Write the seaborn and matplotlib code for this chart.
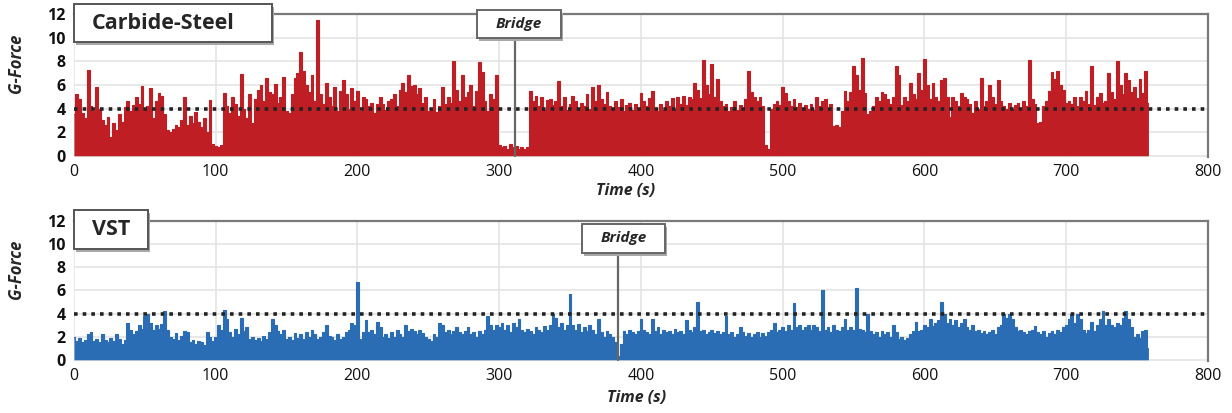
import numpy as np
import pandas as pd
import matplotlib.pyplot as plt
from matplotlib.patches import Rectangle
import seaborn as sns

# peak G-force, one value every 2 s (t = 0 .. 758)
step = 2
carbide_steel = [
    3.5, 5.2, 4.8, 3.6, 3.2, 7.3, 4.2, 3.8, 5.8, 4.0,
    3.0, 2.6, 3.3, 1.6, 2.8, 2.2, 3.5, 2.9, 4.1, 4.6,
    3.8, 4.3, 5.0, 4.4, 5.9, 4.0, 4.2, 5.7, 3.2, 4.6,
    5.3, 5.1, 3.5, 2.2, 2.0, 2.3, 2.6, 2.4, 3.0, 5.0,
    2.6, 3.4, 2.8, 3.7, 2.9, 2.4, 3.2, 2.0, 4.7, 1.0,
    0.8, 0.7, 0.9, 5.3, 4.2, 3.6, 5.0, 4.4, 3.4, 6.9,
    4.0, 3.2, 5.2, 2.8, 4.8, 5.6, 6.0, 4.6, 6.6, 5.4,
    5.2, 6.1, 4.5, 5.0, 6.7, 3.8, 3.6, 5.2, 6.6, 7.0,
    8.8, 7.2, 6.0, 5.4, 6.8, 4.6, 11.5, 5.2, 4.4, 6.2,
    5.0, 4.2, 5.8, 3.8, 5.5, 6.4, 5.2, 4.0, 5.7, 4.6,
    5.5, 3.8, 5.0, 4.8, 4.2, 4.5, 3.6, 4.4, 5.0, 4.4,
    3.9, 4.6, 4.8, 5.2, 4.2, 5.6, 6.2, 5.4, 6.8, 5.9,
    6.0, 5.2, 5.7, 4.5, 5.0, 3.8, 4.0, 4.8, 3.7, 4.2,
    5.8, 4.4, 5.0, 4.5, 8.0, 5.6, 4.6, 6.8, 5.0, 5.4,
    6.0, 4.2, 5.5, 7.9, 7.1, 4.6, 3.8, 5.2, 4.8, 6.8,
    0.9, 0.7, 0.8, 0.6, 1.0, 0.7, 0.8, 0.6, 0.7, 0.6,
    0.7, 5.5, 4.6, 5.1, 4.2, 5.0, 3.9, 4.7, 4.8, 4.3,
    4.6, 6.3, 4.2, 5.0, 3.9, 4.4, 5.1, 4.6, 4.0, 4.5,
    4.2, 5.2, 4.0, 5.8, 4.6, 6.0, 4.8, 4.4, 5.4, 4.2,
    3.9, 4.6, 4.1, 4.8, 3.8, 4.3, 4.5, 3.9, 4.4, 4.0,
    5.3, 4.6, 4.2, 4.9, 5.5, 4.0, 3.8, 4.4, 3.9, 4.6,
    4.2, 4.9, 4.0, 5.0, 4.4, 5.1, 4.3, 5.0, 4.8, 6.2,
    5.6, 4.9, 8.1, 6.0, 5.2, 7.8, 5.0, 6.5, 4.6, 4.2,
    4.4, 3.8, 4.1, 4.6, 3.9, 4.3, 4.0, 4.8, 7.2, 5.4,
    5.0, 4.6, 5.0, 4.2, 0.9, 0.6, 4.0, 4.4, 4.6, 4.3,
    5.8, 5.3, 4.6, 4.2, 4.8, 4.1, 4.5, 3.9, 4.3, 4.0,
    4.4, 3.9, 5.0, 4.2, 4.6, 4.8, 4.0, 4.4, 2.5, 2.6,
    2.4, 3.8, 5.5, 4.6, 5.4, 7.6, 6.8, 5.6, 8.3, 5.3,
    3.5, 3.8, 4.2, 5.0, 4.6, 5.4, 5.2, 4.8, 4.4, 5.0,
    7.6, 6.8, 4.3, 5.0, 4.6, 6.2, 5.2, 4.8, 7.0, 5.6,
    8.2, 6.0, 4.8, 6.2, 5.0, 4.6, 6.4, 6.6, 5.0, 3.3,
    5.0, 4.6, 4.2, 5.3, 5.0, 4.8, 4.4, 3.6, 4.6, 4.0,
    6.6, 4.2, 4.6, 6.0, 5.0, 4.4, 6.4, 4.6, 4.2, 4.0,
    4.5, 4.0, 4.3, 4.5, 3.9, 4.6, 4.2, 8.1, 4.8, 4.4,
    2.8, 2.9, 4.2, 4.6, 5.5, 7.1, 6.5, 7.2, 6.0, 5.6,
    4.5, 4.6, 4.4, 5.0, 4.2, 5.0, 4.6, 5.5, 4.4, 7.6,
    4.3, 5.0, 5.3, 4.5, 4.6, 7.0, 5.4, 4.8, 8.0, 6.0,
    5.2, 7.0, 6.4, 5.4, 5.8, 4.9, 6.5, 5.3, 7.2, 4.5,
]
vst = [
    2.0, 1.6, 1.9, 1.5, 1.7, 2.2, 2.4, 1.6, 1.8, 1.5,
    2.2, 1.7, 1.5, 1.9, 1.6, 2.2, 1.8, 1.4, 1.7, 3.2,
    2.6, 2.2, 2.5, 3.0, 2.7, 3.8, 4.0, 3.2, 2.6, 3.0,
    2.7, 3.1, 4.2, 2.6, 2.0, 1.8, 2.3, 1.7, 2.1, 2.5,
    2.4, 1.5, 1.7, 1.4, 1.6, 1.5, 1.3, 2.4, 2.0, 1.6,
    2.0, 3.0, 2.6, 4.3, 3.5, 2.4, 2.0, 2.7, 2.2, 3.6,
    2.5, 2.8, 1.8, 2.0, 1.7, 1.9, 1.6, 2.1, 1.8, 2.4,
    3.5, 3.0, 2.5, 2.2, 2.6, 1.8, 2.0, 1.7, 2.3, 1.9,
    2.2, 1.8, 2.4, 2.0, 2.6, 2.2, 1.8, 2.0, 2.4, 3.0,
    2.1, 2.0, 1.7, 2.2, 1.8, 2.0, 2.4, 2.6, 3.2, 3.0,
    6.7, 1.8, 2.4, 3.4, 2.4, 2.6, 2.2, 3.3, 2.8, 2.0,
    2.2, 1.9, 2.4, 2.0, 2.6, 2.2, 2.0, 3.0, 2.5, 2.7,
    2.5, 2.2, 2.6, 2.3, 2.0, 1.8, 1.6, 2.2, 2.0, 3.2,
    3.0, 2.4, 2.6, 2.2, 2.5, 2.8, 2.4, 2.2, 2.5, 2.8,
    2.2, 2.4, 2.0, 2.5, 2.2, 2.6, 3.8, 3.0, 2.6, 3.0,
    2.8, 3.2, 2.6, 3.0, 2.4, 3.2, 2.8, 3.5, 2.6, 2.4,
    2.7, 2.5, 2.2, 2.8, 2.6, 2.4, 2.9, 2.6, 3.0, 4.0,
    3.6, 2.8, 3.2, 2.6, 3.0, 5.7, 3.0, 2.6, 3.1, 2.4,
    2.8, 2.5, 3.0, 2.6, 2.2, 3.5, 2.4, 2.0, 2.5, 2.2,
    2.0, 1.5, 0.3, 1.4, 2.5, 2.2, 2.6, 2.4, 2.2, 2.5,
    3.5, 2.6, 2.4, 2.2, 3.5, 2.5, 2.8, 2.2, 2.6, 2.4,
    2.5, 2.2, 2.7, 2.4, 2.5, 2.2, 3.4, 2.6, 2.4, 2.8,
    5.0, 2.5, 2.6, 2.2, 2.4, 2.6, 2.3, 2.5, 2.2, 2.4,
    3.8, 2.2, 2.4, 2.0, 2.2, 2.8, 2.4, 2.1, 2.3, 2.0,
    2.2, 2.4, 2.0, 2.3, 2.1, 2.4, 2.6, 3.2, 2.4, 2.6,
    2.8, 2.5, 3.0, 2.6, 4.9, 2.8, 3.0, 2.6, 2.8, 3.0,
    2.6, 3.0, 2.8, 2.5, 6.0, 2.6, 2.8, 2.4, 3.0, 2.6,
    2.5, 2.8, 3.5, 2.6, 2.8, 2.6, 6.2, 2.7, 2.6, 2.4,
    4.0, 2.5, 2.2, 2.4, 2.0, 2.5, 2.2, 2.4, 2.0, 3.0,
    2.4, 1.8, 2.0, 1.7, 1.9, 2.2, 2.5, 3.3, 2.5, 2.6,
    3.0, 2.8, 3.5, 2.9, 3.2, 3.4, 5.0, 4.0, 3.2, 3.5,
    3.0, 3.4, 2.8, 3.2, 3.5, 2.8, 2.6, 3.0, 2.5, 2.6,
    2.3, 2.5, 2.2, 2.4, 2.6, 2.2, 2.8, 3.0, 4.0, 3.6,
    4.0, 3.5, 2.8, 2.5, 2.6, 2.4, 2.2, 2.5, 2.6, 2.9,
    2.4, 2.2, 2.5, 2.0, 2.3, 2.5, 2.2, 2.6, 2.4, 2.8,
    3.0, 3.5, 4.0, 3.2, 4.0, 3.5, 2.6, 2.3, 2.6, 3.3,
    2.5, 3.0, 3.5, 4.2, 3.0, 3.5, 3.0, 2.8, 3.2, 3.0,
    3.6, 4.2, 3.5, 2.8, 2.0, 2.2, 1.9, 2.5, 2.6, 1.0,
]
threshold = 4
bridge_time = [311, 384]
panel_names = ['Carbide-Steel', 'VST']
panel_colors = ['#bf1e24', '#2a6db5']

sns.set_style('whitegrid')
plt.rcParams['font.family'] = ['Open Sans', 'DejaVu Sans']

fig = plt.figure(figsize=(12.32, 4.13), dpi=100)
ax_top = fig.add_axes([0.060, 0.620, 0.9205, 0.346])
ax_bot = fig.add_axes([0.060, 0.126, 0.9205, 0.339])

# (box x0, box x1, box y0, box y1, text x) in axes coords
name_boxes = [(0.0, 0.1746, 0.804, 1.07, 0.016), (0.0, 0.065, 0.80, 1.079, 0.016)]
bridge_boxes = [(0.355, 0.4295, 0.832, 1.028), (0.448, 0.521, 0.771, 0.979)]
xlabel_pos = [(0.486, -0.185), (0.496, -0.21)]

for i, (ax, vals) in enumerate(zip([ax_top, ax_bot], [carbide_steel, vst])):
    df = pd.DataFrame({'time': np.arange(len(vals)) * step, 'g': vals})
    color = panel_colors[i]
    ax.fill_between(df['time'], 0, df['g'], step='mid', color=color, lw=0, zorder=2)
    sns.lineplot(data=df, x='time', y='g', ax=ax, color=color, lw=0.8,
                 drawstyle='steps-mid', zorder=3)

    ax.axhline(threshold, color='#222222', ls=(0, (1, 1.4)), lw=2.6, zorder=4)

    ax.set_xlim(0, 800)
    ax.set_ylim(-0.1, 12)
    ax.set_xticks(range(0, 801, 100))
    ax.set_yticks(range(0, 13, 2))
    ax.grid(color='#e4e4e4', lw=1.2)
    for side in ['left', 'bottom']:
        ax.spines[side].set_visible(False)
    for side in ['top', 'right']:
        ax.spines[side].set_visible(True)
        ax.spines[side].set_color('#7a7a7a')
        ax.spines[side].set_linewidth(1.6)
    ax.tick_params(axis='both', length=0, labelsize=11.5, colors='#111111')
    ax.tick_params(axis='x', pad=5)
    ax.tick_params(axis='y', pad=6)
    for lab in ax.get_yticklabels():
        lab.set_fontweight('bold')

    ax.set_ylabel('G-Force', fontsize=12, fontstyle='italic', fontweight='bold')
    ax.yaxis.set_label_coords(-0.043, 0.657)
    ax.set_xlabel('Time (s)', fontsize=11.5, fontstyle='italic', fontweight='bold')
    ax.xaxis.set_label_coords(*xlabel_pos[i])

    # name box with drop shadow
    x0, x1, y0, y1, tx = name_boxes[i]
    ax.add_patch(Rectangle((x0 + 0.002, y0 - 0.02), x1 - x0, y1 - y0, transform=ax.transAxes,
                           facecolor='#a8a8a8', edgecolor='none', clip_on=False, zorder=6))
    ax.add_patch(Rectangle((x0, y0), x1 - x0, y1 - y0, transform=ax.transAxes,
                           facecolor='white', edgecolor='#555555', lw=1.4, clip_on=False, zorder=7))
    ax.text(tx, (y0 + y1) / 2, panel_names[i], transform=ax.transAxes, ha='left', va='center',
            fontsize=15.5, fontweight='bold', zorder=8)

    # bridge marker
    bx0, bx1, by0, by1 = bridge_boxes[i]
    ax.plot([bridge_time[i], bridge_time[i]], [0, 12 * by0 - 0.1], color='#666666', lw=1.6, zorder=5,
            clip_on=False)
    ax.add_patch(Rectangle((bx0 + 0.002, by0 - 0.02), bx1 - bx0, by1 - by0, transform=ax.transAxes,
                           facecolor='#a8a8a8', edgecolor='none', clip_on=False, zorder=6))
    ax.add_patch(Rectangle((bx0, by0), bx1 - bx0, by1 - by0, transform=ax.transAxes,
                           facecolor='white', edgecolor='#666666', lw=1.4, clip_on=False, zorder=7))
    ax.text((bx0 + bx1) / 2, (by0 + by1) / 2, 'Bridge', transform=ax.transAxes, ha='center',
            va='center', fontsize=11, fontstyle='italic', fontweight='bold', zorder=8)

fig.savefig('out.png', dpi=100)
